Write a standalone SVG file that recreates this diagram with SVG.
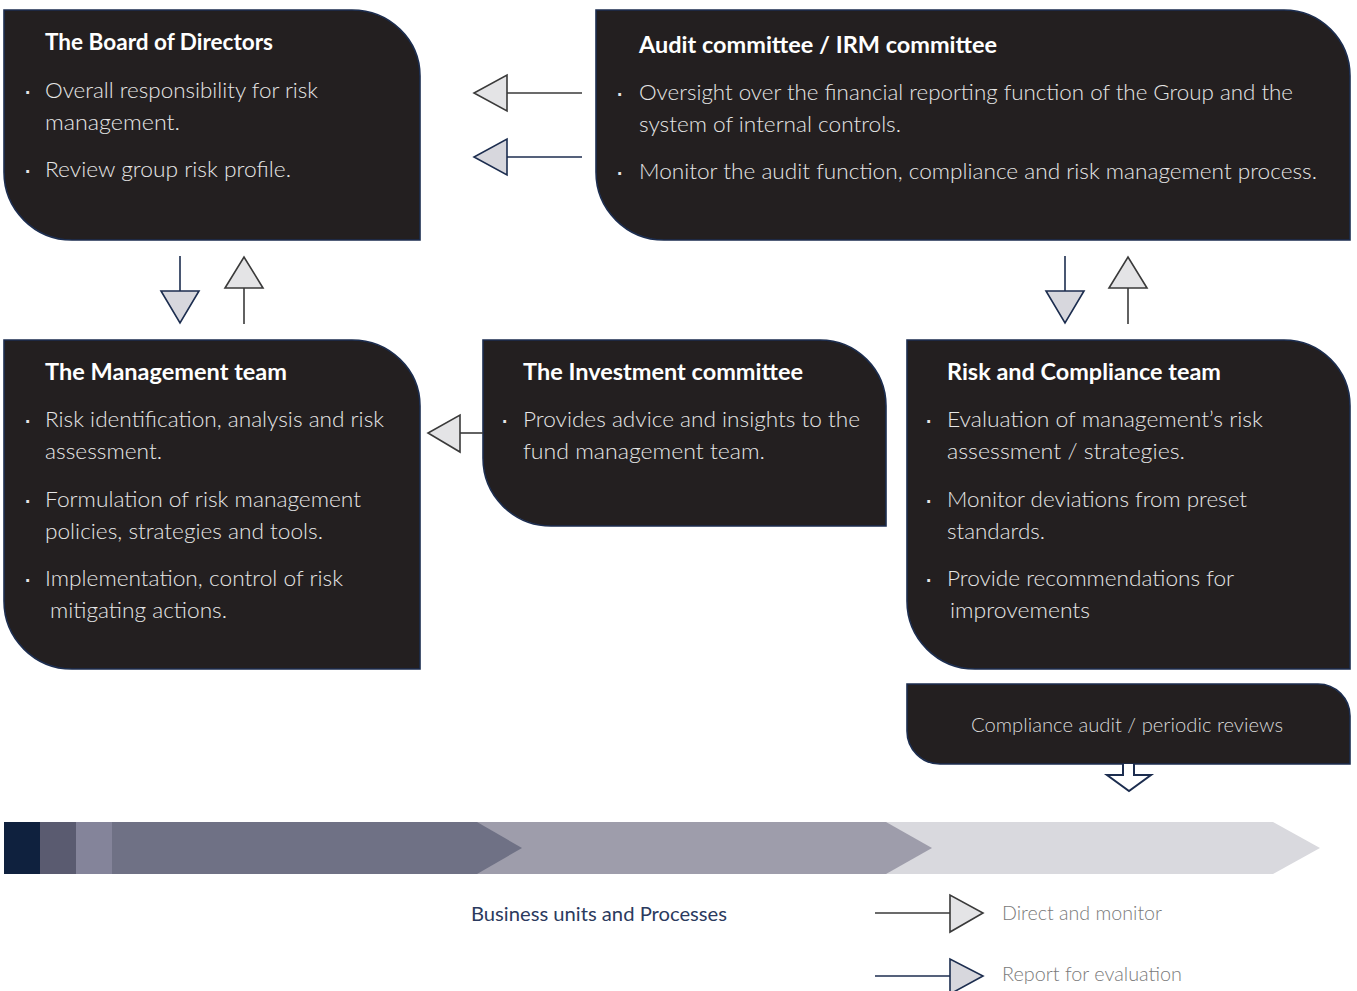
<svg xmlns="http://www.w3.org/2000/svg" width="1357" height="991" viewBox="0 0 1357 991">
<defs>
<style>
.box{fill:#231f20;stroke:#1c2d4f;stroke-width:1.6}
.t{font-family:Lato,"Open Sans","Liberation Sans",sans-serif;font-weight:700;font-size:22px;fill:#ffffff}
.b{font-family:Lato,"Open Sans","Liberation Sans",sans-serif;font-weight:300;font-size:22px;fill:#e6e6e6}
.dot{font-family:"Liberation Sans",sans-serif;font-size:28px;fill:#e6e6e6}
.c{font-family:Lato,"Open Sans","Liberation Sans",sans-serif;font-weight:300;font-size:20px;fill:#d9d9d9}
.lg{font-family:Lato,"Open Sans","Liberation Sans",sans-serif;font-weight:300;font-size:20px;fill:#7a7a7a}
.bu{font-family:Lato,"Open Sans","Liberation Sans",sans-serif;font-weight:400;font-size:19px;fill:#2b3a5e}
.dl{stroke:#3a3a3a;stroke-width:1.6;fill:none}
.dh{fill:#e4e4e6;stroke:#3a3a3a;stroke-width:1.6}
.rl{stroke:#1c2d4f;stroke-width:1.6;fill:none}
.rh{fill:#d7d7dd;stroke:#1c2d4f;stroke-width:1.6}
</style>
</defs>
<rect width="1357" height="991" fill="#ffffff"/>

<g id="board">
<path class="box" d="M4 10 H352 A68 66 0 0 1 420 76 V240 H72 A68 68 0 0 1 4 172 Z"/>
<text class="t" x="45" y="50" textLength="228" lengthAdjust="spacingAndGlyphs">The Board of Directors</text>
<text class="dot" x="23" y="100">·</text>
<text class="b" x="45" y="98" textLength="273" lengthAdjust="spacingAndGlyphs">Overall responsibility for risk</text>
<text class="b" x="45" y="130" textLength="135" lengthAdjust="spacingAndGlyphs">management.</text>
<text class="dot" x="23" y="179">·</text>
<text class="b" x="45" y="177" textLength="246" lengthAdjust="spacingAndGlyphs">Review group risk profile.</text>
</g>

<g id="audit">
<path class="box" d="M596 10 H1284 A66 66 0 0 1 1350 76 V240 H664 A68 68 0 0 1 596 172 Z"/>
<text class="t" x="639" y="53" textLength="358" lengthAdjust="spacingAndGlyphs">Audit committee / IRM committee</text>
<text class="dot" x="615" y="102">·</text>
<text class="b" x="639" y="100" textLength="654" lengthAdjust="spacingAndGlyphs">Oversight over the financial reporting function of the Group and the</text>
<text class="b" x="639" y="132" textLength="262" lengthAdjust="spacingAndGlyphs">system of internal controls.</text>
<text class="dot" x="615" y="181">·</text>
<text class="b" x="639" y="179" textLength="678" lengthAdjust="spacingAndGlyphs">Monitor the audit function, compliance and risk management process.</text>
</g>

<g id="management">
<path class="box" d="M4 340 H352 A68 66 0 0 1 420 406 V669 H72 A68 68 0 0 1 4 601 Z"/>
<text class="t" x="45" y="380" textLength="242" lengthAdjust="spacingAndGlyphs">The Management team</text>
<text class="dot" x="23" y="429">·</text>
<text class="b" x="45" y="427" textLength="339" lengthAdjust="spacingAndGlyphs">Risk identification, analysis and risk</text>
<text class="b" x="45" y="459" textLength="117" lengthAdjust="spacingAndGlyphs">assessment.</text>
<text class="dot" x="23" y="509">·</text>
<text class="b" x="45" y="507" textLength="316" lengthAdjust="spacingAndGlyphs">Formulation of risk management</text>
<text class="b" x="45" y="539" textLength="278" lengthAdjust="spacingAndGlyphs">policies, strategies and tools.</text>
<text class="dot" x="23" y="588">·</text>
<text class="b" x="45" y="586" textLength="298" lengthAdjust="spacingAndGlyphs">Implementation, control of risk</text>
<text class="b" x="50" y="618" textLength="177" lengthAdjust="spacingAndGlyphs">mitigating actions.</text>
</g>

<g id="investment">
<path class="box" d="M483 340 H820 A66 66 0 0 1 886 406 V526 H551 A68 68 0 0 1 483 458 Z"/>
<text class="t" x="523" y="380" textLength="280" lengthAdjust="spacingAndGlyphs">The Investment committee</text>
<text class="dot" x="500" y="429">·</text>
<text class="b" x="523" y="427" textLength="337" lengthAdjust="spacingAndGlyphs">Provides advice and insights to the</text>
<text class="b" x="523" y="459" textLength="242" lengthAdjust="spacingAndGlyphs">fund management team.</text>
</g>

<g id="risk">
<path class="box" d="M907 340 H1284 A66 66 0 0 1 1350 406 V669 H975 A68 68 0 0 1 907 601 Z"/>
<text class="t" x="947" y="380" textLength="274" lengthAdjust="spacingAndGlyphs">Risk and Compliance team</text>
<text class="dot" x="924" y="429">·</text>
<text class="b" x="947" y="427" textLength="316" lengthAdjust="spacingAndGlyphs">Evaluation of management’s risk</text>
<text class="b" x="947" y="459" textLength="238" lengthAdjust="spacingAndGlyphs">assessment / strategies.</text>
<text class="dot" x="924" y="509">·</text>
<text class="b" x="947" y="507" textLength="300" lengthAdjust="spacingAndGlyphs">Monitor deviations from preset</text>
<text class="b" x="947" y="539" textLength="98" lengthAdjust="spacingAndGlyphs">standards.</text>
<text class="dot" x="924" y="588">·</text>
<text class="b" x="947" y="586" textLength="287" lengthAdjust="spacingAndGlyphs">Provide recommendations for</text>
<text class="b" x="950" y="618" textLength="140" lengthAdjust="spacingAndGlyphs">improvements</text>
</g>

<g id="compliance">
<path class="box" d="M907 684 H1318 A32 32 0 0 1 1350 716 V764 H940 A33 33 0 0 1 907 731 Z"/>
<text class="c" x="971" y="732" textLength="312" lengthAdjust="spacingAndGlyphs">Compliance audit / periodic reviews</text>
</g>

<g id="process-bar">
<polygon points="886,822 1273,822 1320,848 1273,874 886,874" fill="#d9d9de"/>
<polygon points="477,822 886,822 932,848 886,874 477,874" fill="#9e9dab"/>
<polygon points="112,822 477,822 522,848 477,874 112,874" fill="#6f7185"/>
<rect x="76" y="822" width="36" height="52" fill="#84849a"/>
<rect x="40" y="822" width="36" height="52" fill="#5a5b70"/>
<rect x="4" y="822" width="36" height="52" fill="#0f213e"/>
<text class="bu" x="471" y="921" textLength="256" lengthAdjust="spacingAndGlyphs">Business units and Processes</text>
</g>

<g id="connectors">
<line class="dl" x1="582" y1="93" x2="507" y2="93"/>
<polygon class="dh" points="507,75 507,111 474,93"/>
<line class="rl" x1="582" y1="157" x2="507" y2="157"/>
<polygon class="rh" points="507,139 507,175 474,157"/>

<line class="rl" x1="180" y1="256" x2="180" y2="291"/>
<polygon class="rh" points="161,291 199,291 180,323"/>
<line class="dl" x1="244" y1="288" x2="244" y2="324"/>
<polygon class="dh" points="225,288 263,288 244,257"/>

<line class="rl" x1="1065" y1="256" x2="1065" y2="291"/>
<polygon class="rh" points="1046,291 1084,291 1065,323"/>
<line class="dl" x1="1128" y1="288" x2="1128" y2="324"/>
<polygon class="dh" points="1109,288 1147,288 1128,257"/>

<line class="dl" x1="483" y1="433" x2="460" y2="433"/>
<polygon class="dh" points="460,415 460,452 428,433"/>

<path d="M1123 764 V775 H1107 L1129 791 L1151 775 H1134 V764" fill="#ffffff" stroke="#1c2d4f" stroke-width="2" stroke-linejoin="miter"/>
</g>

<g id="legend">
<line class="dl" x1="875" y1="913" x2="950" y2="913"/>
<polygon class="dh" points="950,895 950,932 983,913"/>
<text class="lg" x="1002" y="920" textLength="160" lengthAdjust="spacingAndGlyphs">Direct and monitor</text>
<line class="rl" x1="875" y1="976" x2="950" y2="976"/>
<polygon class="rh" points="950,959 950,994 983,976"/>
<text class="lg" x="1002" y="981" textLength="180" lengthAdjust="spacingAndGlyphs">Report for evaluation</text>
</g>
</svg>
